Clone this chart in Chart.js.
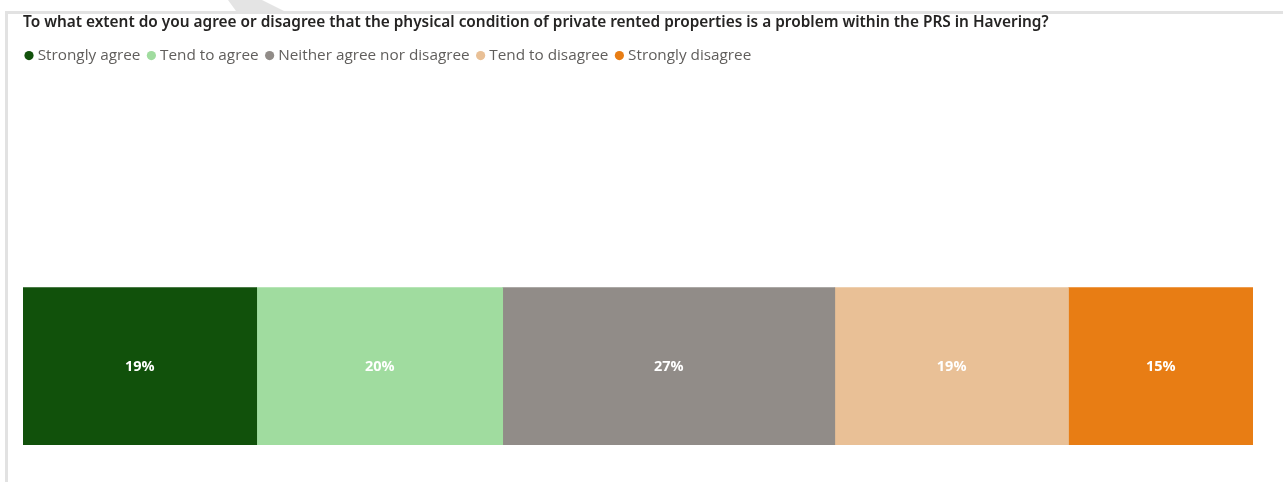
<!DOCTYPE html>
<html>
<head>
<meta charset="utf-8">
<script src="https://cdn.jsdelivr.net/npm/chart.js@4.4.1/dist/chart.umd.min.js"></script>
<style>
  html, body { margin: 0; padding: 0; background: #fff; overflow: hidden; }
  body { width: 1283px; height: 482px; position: relative; }
  .frame {
    position: absolute; left: 5px; top: 11px; right: -10px; bottom: -10px;
    border-top: 3px solid #e2e2e2; border-left: 3px solid #e2e2e2;
  }
  .stripe {
    position: absolute; left: 226px; top: 0; width: 60px; height: 11px;
    background: #e4e4e4;
    clip-path: polygon(2px 0, 36px 0, 58px 11px, 10px 11px);
  }
  .wrap { position: absolute; left: 0; top: 0; width: 1283px; height: 659px; }
</style>
</head>
<body>
<div class="stripe"></div>
<div class="frame"></div>
<div class="wrap"><canvas id="bar-chart"></canvas></div>
<script>
// Stacked 100% bar

const TITLE = "To what extent do you agree or disagree that the physical condition of private rented properties is a problem within the PRS in Havering?";
const categories = ["Strongly agree", "Tend to agree", "Neither agree nor disagree", "Tend to disagree", "Strongly disagree"];
const percents = [19, 20, 27, 19, 15];
const colors = ["#11510b", "#a0dc9f", "#918c88", "#e9c096", "#e87d14"];

// white % labels in the middle of each segment
const segmentLabels = {
  id: "segmentLabels",
  afterDatasetsDraw(chart) {
    const ctx = chart.ctx;
    ctx.save();
    ctx.fillStyle = "#ffffff";
    ctx.font = "bold 14.5px 'Open Sans', 'Noto Sans', sans-serif";
    ctx.textAlign = "center";
    ctx.textBaseline = "middle";
    chart.data.datasets.forEach((ds, i) => {
      const bar = chart.getDatasetMeta(i).data[0];
      if (!bar) return;
      const p = bar.getCenterPoint();
      ctx.fillText(ds.data[0] + "%", p.x, p.y + 1);
    });
    ctx.restore();
  }
};

const ctx = document.getElementById("bar-chart");

new Chart(ctx, {
  type: "bar",
  data: {
    labels: [""],
    datasets: categories.map((name, i) => ({
      label: name,
      data: [percents[i]],
      backgroundColor: colors[i],
      borderWidth: 0,
      barThickness: 157,
    })),
  },
  options: {
    indexAxis: "y",
    responsive: true,
    maintainAspectRatio: false,
    animation: false,
    layout: {
      padding: { left: 18, right: 30, top: 4, bottom: 0 },
    },
    plugins: {
      tooltip: { enabled: false },
      title: {
        display: true,
        text: TITLE,
        align: "start",
        fullSize: false,
        color: "#252423",
        font: { family: "'Noto Sans', sans-serif", size: 15.4, weight: "600" },
        padding: { top: 9, bottom: 6.4 },
      },
      legend: {
        position: "top",
        align: "start",
        labels: {
          usePointStyle: true,
          pointStyle: "circle",
          boxWidth: 2,
          boxHeight: 6.5,
          padding: 10,
          color: "#605e5c",
          font: { family: "'Open Sans', 'Noto Sans', sans-serif", size: 15.3 },
        },
      },
    },
    scales: {
      x: {
        stacked: true,
        min: 0,
        max: 100,
        display: false,
      },
      y: {
        stacked: true,
        border: { display: false },
        grid: { display: false },
        ticks: { display: false },
        afterFit(scale) {
          scale.width = 5;
        },
      },
    },
  },
  plugins: [segmentLabels],
});
</script>
</body>
</html>
